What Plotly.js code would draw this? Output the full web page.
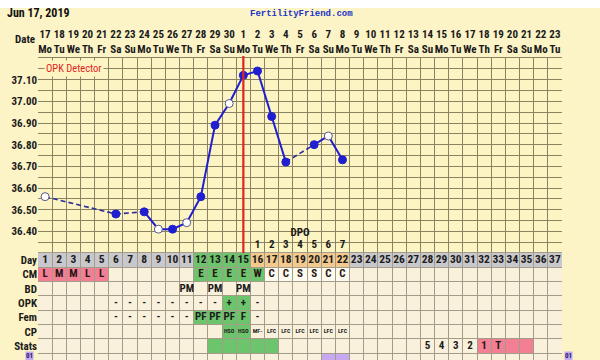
<!DOCTYPE html>
<html><head><meta charset="utf-8">
<script src="https://cdn.plot.ly/plotly-3.0.1.min.js"></script>
<style>
html,body{margin:0;padding:0;}
body{background:linear-gradient(#ffffff 0px,#ffffff 8px,#fcf4c6 8px,#fcf4c6 100%);width:600px;height:360px;overflow:hidden;}
#chart{width:600px;height:360px;}
</style>
</head><body><div id="chart"></div>
<script>
// ---------- data ----------
const headerDate = 'Jun 17, 2019';
const siteName = 'FertilityFriend.com';
const cycleDays = [1,2,3,4,5,6,7,8,9,10,11,12,13,14,15,16,17,18,19,20,21,22,23,24,25,26,27,28,29,30,31,32,33,34,35,36,37];
const dates = [17,18,19,20,21,22,23,24,25,26,27,28,29,30,1,2,3,4,5,6,7,8,9,10,11,12,13,14,15,16,17,18,19,20,21,22,23];
const weekdays = ['Mo','Tu','We','Th','Fr','Sa','Su','Mo','Tu','We','Th','Fr','Sa','Su','Mo','Tu','We','Th','Fr','Sa','Su','Mo','Tu','We','Th','Fr','Sa','Su','Mo','Tu','We','Th','Fr','Sa','Su','Mo','Tu'];

const tempDays = [1,6,8,9,10,11,12,13,14,15,16,17,18,20,21,22];
const temps    = [36.56,36.48,36.49,36.41,36.41,36.44,36.56,36.89,36.99,37.12,37.14,36.93,36.72,36.80,36.84,36.73];
const openPoint= [true,false,false,true,false,true,false,false,true,false,false,false,false,false,true,false];
const tempTickLabels = ['36.40','36.50','36.60','36.70','36.80','36.90','37.00','37.10'];

const ovulationDay = 15;
const dpoDays = [16,17,18,19,20,21,22];
const dpoLabels = ['1','2','3','4','5','6','7'];

const rowNames = ['Day','CM','BD','OPK','Fem','CP','Stats'];
const cmDays  = [1,2,3,4,5,12,13,14,15,16,17,18,19,20,21,22];
const cmVals  = ['L','M','M','L','L','E','E','E','E','W','C','C','S','S','C','C'];
const bdDays  = [11,13,15];
const bdVals  = ['PM','PM','PM'];
const opkDays = [6,7,8,9,10,11,12,13,14,15,16];
const opkVals = ['-','-','-','-','-','-','-','-','+','+','-'];
const femDays = [6,7,8,9,10,11,12,13,14,15,16];
const femVals = ['-','-','-','-','-','-','PF','PF','PF','F','-'];
const cpDays  = [14,15,16,17,18,19,20,21,22];
const cpVals  = ['HSO','HSO','MF-','LFC','LFC','LFC','LFC','LFC','LFC'];
const statsDays = [28,29,30,31,32,33];
const statsVals = ['5','4','3','2','1','T'];

// [row, fromDay, toDay, colour key]
const cellFills = [
  ['Day',1,11,'grey'],['Day',12,15,'green'],['Day',16,22,'peach'],['Day',23,37,'grey'],
  ['CM',1,5,'pink'],['CM',12,16,'green'],['CM',17,22,'white'],
  ['OPK',14,15,'green'],
  ['Fem',12,15,'green'],
  ['CP',14,15,'green'],
  ['Stats',13,17,'green'],['Stats',32,35,'pink'],
  ['01',21,22,'violet']
];
const fillColors = {grey:'#c9c9cd', green:'#6cc56c', peach:'#f3c98d', pink:'#f27f93', violet:'#c7a9f2', white:'#fdfaf0'};

// ---------- build ----------
const FAM = 'Liberation Sans Narrow, Roboto Condensed, Roboto, sans-serif';
const rowIndex = {Day:0,CM:1,BD:2,OPK:3,Fem:4,CP:5,Stats:6,'01':7};
const blue = '#1f1fcf';

const sX=[], sY=[], dX=[], dY=[];
for (let i=0;i<tempDays.length;i++){
  sX.push(tempDays[i]); sY.push(temps[i]);
  if (i<tempDays.length-1 && tempDays[i+1]-tempDays[i]!==1){
    sX.push(null); sY.push(null);
    dX.push(tempDays[i],tempDays[i+1],null); dY.push(temps[i],temps[i+1],null);
  }
}

const traces = [];
traces.push({x:dX,y:dY,xaxis:'x',yaxis:'y',mode:'lines',line:{color:'#2d2d9a',width:1.6,dash:'5px,3px'},hoverinfo:'skip'});
traces.push({x:sX,y:sY,xaxis:'x',yaxis:'y',mode:'lines',line:{color:blue,width:2},hoverinfo:'skip'});
traces.push({x:tempDays,y:temps,xaxis:'x',yaxis:'y',mode:'markers',
  marker:{size:8,color:openPoint.map(o=>o?'#ffffff':blue),line:{color:openPoint.map(o=>o?'#555a8a':blue),width:1}},hoverinfo:'skip'});
traces.push({x:dpoDays,y:dpoDays.map(()=>36.337),text:dpoLabels,mode:'text',xaxis:'x',yaxis:'y',
  textfont:{family:FAM,size:11,color:'#1a1a1a',weight:'bold'},hoverinfo:'skip'});
traces.push({x:[dpoDays[3]],y:[36.392],text:['DPO'],mode:'text',xaxis:'x',yaxis:'y',
  textfont:{family:FAM,size:11,color:'#1a1a1a',weight:'bold'},hoverinfo:'skip'});

function addRow(days, vals, row, size, color){
  traces.push({x:days,y:days.map(()=>rowIndex[row]),text:vals,mode:'text',xaxis:'x2',yaxis:'y2',
    textfont:{family:FAM,size:size,color:color,weight:'bold'},hoverinfo:'skip'});
}
addRow(cycleDays, cycleDays.map(String), 'Day', 11.5, '#1c1c1c');
addRow(cmDays, cmVals, 'CM', 11, '#2a1515');
addRow(bdDays, bdVals, 'BD', 11, '#1c1c1c');
addRow(opkDays, opkVals, 'OPK', 11, '#1c1c1c');
addRow(femDays, femVals, 'Fem', 11, '#1c1c1c');
addRow(cpDays, cpVals, 'CP', 6, '#1c1c1c');
addRow(statsDays, statsVals, 'Stats', 11, '#1c1c1c');

const shapes = [];
shapes.push({type:'rect',xref:'x2 domain',yref:'y2 domain',x0:0,x1:1,y0:0,y1:1,fillcolor:'#f9f1dc',line:{width:0},layer:'below'});
cellFills.forEach(([row,a,b,c])=>{
  const r = rowIndex[row];
  shapes.push({type:'rect',xref:'x2',yref:'y2',x0:a-0.5,x1:b+0.5,y0:r-0.5,y1:r+0.5,fillcolor:fillColors[c],line:{width:0},layer:'below'});
});
shapes.push({type:'line',xref:'x',yref:'y domain',x0:ovulationDay,x1:ovulationDay,y0:0,y1:1.01,line:{color:'#e0241e',width:2.2}});

const tempTickVals = tempTickLabels.map(Number);
const gridT = '#8a8262', gridTab = '#a39c88';
const tickFont = {family:FAM, size:11, color:'#1a1a1a', weight:'bold'};
const tDom = [0.3543,1], bDom=[0,0.3543];

const layout = {
  width:600,height:360,
  margin:{l:38,r:38,t:58,b:0,pad:0},
  paper_bgcolor:'rgba(0,0,0,0)', plot_bgcolor:'#fcf4c2',
  showlegend:false,
  font:{family:FAM, size:11, color:'#1a1a1a'},
  xaxis:{domain:[0,1],anchor:'y',side:'top',range:[0.5,37.5],tickmode:'array',tickvals:cycleDays,
    ticktext:dates.map((d,i)=>d+'<br>'+weekdays[i]),tickangle:0,showgrid:false,ticks:'',zeroline:false,
    tickfont:tickFont,
    showline:true,linecolor:gridT,linewidth:1,mirror:true,
    minor:{tickmode:'linear',tick0:0.5,dtick:1,showgrid:true,gridcolor:gridT,gridwidth:1,ticks:''}},
  yaxis:{domain:tDom,anchor:'x',range:[36.30,37.20],tickmode:'array',tickvals:tempTickVals,ticktext:tempTickLabels,
    showgrid:true,gridcolor:gridT,gridwidth:1,zeroline:false,ticks:'',tickfont:tickFont,
    minor:{tickmode:'linear',tick0:36.30,dtick:0.05,showgrid:true,gridcolor:gridT,gridwidth:1,ticks:''}},
  yaxis3:{overlaying:'y',side:'right',anchor:'x',range:[36.30,37.20],tickmode:'array',tickvals:tempTickVals,ticktext:tempTickLabels,
    showgrid:false,zeroline:false,ticks:'',tickfont:tickFont},
  xaxis2:{domain:[0,1],anchor:'y2',matches:'x',showticklabels:false,showgrid:false,ticks:'',zeroline:false,
    showline:true,linecolor:gridTab,mirror:true,
    minor:{tickmode:'linear',tick0:0.5,dtick:1,showgrid:true,gridcolor:gridTab,gridwidth:1,ticks:''}},
  yaxis2:{domain:bDom,anchor:'x2',range:[6.98,-0.5],tickmode:'array',tickvals:[0,1,2,3,4,5,6],ticktext:rowNames,
    showgrid:false,zeroline:false,ticks:'',tickfont:tickFont,
    minor:{tickmode:'linear',tick0:-0.5,dtick:1,showgrid:true,gridcolor:gridTab,gridwidth:1,ticks:''}},
  yaxis4:{overlaying:'y2',side:'right',anchor:'x2',range:[6.98,-0.5],tickmode:'array',tickvals:[0,1,2,3,4,5,6],ticktext:rowNames,
    showgrid:false,zeroline:false,ticks:'',tickfont:tickFont},
  shapes:shapes,
  annotations:[
    {xref:'paper',yref:'paper',x:-38/524+5/524,y:1+(58-13)/302,xanchor:'left',yanchor:'middle',text:headerDate,showarrow:false,
      font:{family:FAM,size:12,color:'#111',weight:'bold'}},
    {xref:'paper',yref:'paper',x:(301-38)/524,y:1+(58-14)/302,xanchor:'center',yanchor:'middle',text:siteName,showarrow:false,
      font:{family:'Liberation Mono, DejaVu Sans Mono, monospace',size:9,color:'#2233c8',weight:'bold'}},
    {xref:'paper',yref:'paper',x:-1/524,y:1+(58-39)/302,xanchor:'right',yanchor:'middle',text:'Date',showarrow:false,
      font:tickFont},
    {xref:'x',yref:'y',x:0.95,y:37.152,xanchor:'left',yanchor:'middle',text:'OPK Detector',showarrow:false,
      bgcolor:'#fcf4c2',borderpad:1,font:{family:FAM,size:10.5,color:'#e0241e'}},
    {xref:'paper',yref:'paper',x:-4/524,y:-1/302,xanchor:'right',yanchor:'bottom',text:'01',showarrow:false,
      bgcolor:'#c7a9f2',borderpad:0,font:{family:FAM,size:7,color:'#1a1a6a',weight:'bold'}},
    {xref:'paper',yref:'paper',x:1+2/524,y:-1/302,xanchor:'left',yanchor:'bottom',text:'01',showarrow:false,
      bgcolor:'#c7a9f2',borderpad:0,font:{family:FAM,size:7,color:'#1a1a6a',weight:'bold'}}
  ]
};

Plotly.newPlot('chart', traces, layout, {staticPlot:true, displayModeBar:false});
</script>
</body></html>
